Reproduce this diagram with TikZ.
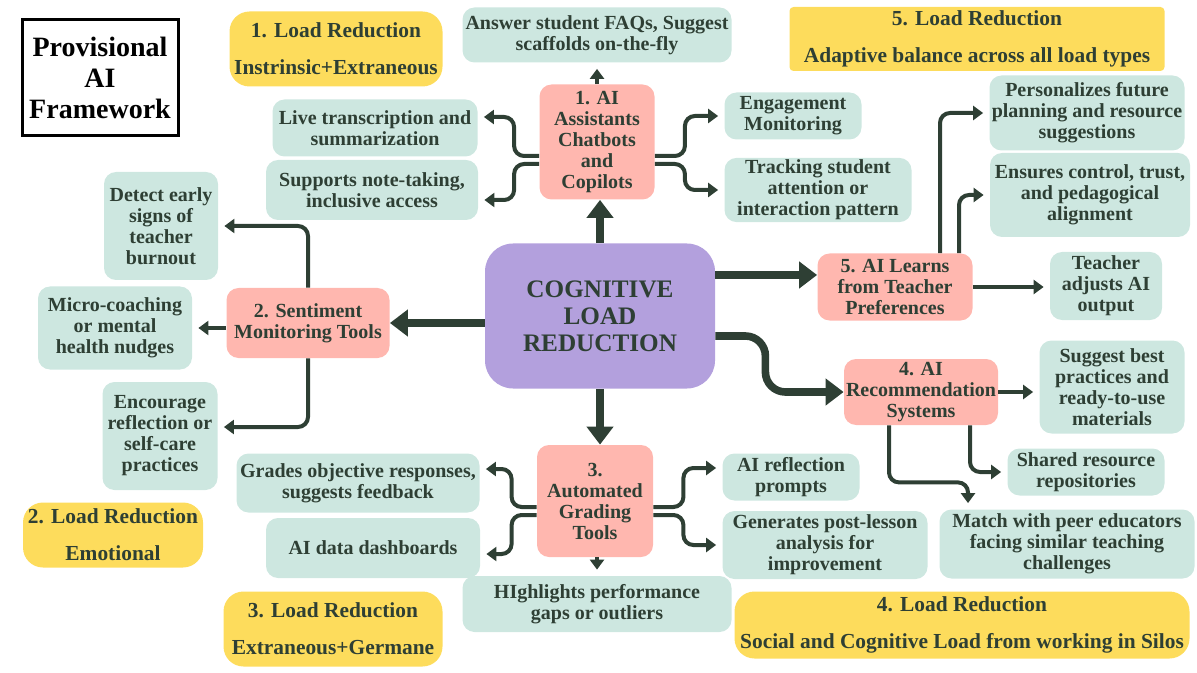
\documentclass[tikz,border=0pt]{standalone}
\usepackage{fontspec}
\setmainfont{Liberation Serif}
\usepackage{xcolor}
\usepackage{tikz}
\usetikzlibrary{positioning, arrows.meta}

\definecolor{ink}{HTML}{2E3F34}
\definecolor{tealc}{HTML}{CDE7E0}
\definecolor{pinkc}{HTML}{FFB7AF}
\definecolor{purplec}{HTML}{B3A0DD}
\definecolor{yellowc}{HTML}{FDDC5C}

\begin{document}
\begin{tikzpicture}[
        x=0.5pt, y=-0.5pt,
        every node/.style={align=center, text=ink, font=\bfseries\fontsize{10}{10.5}\selectfont},
        leaf/.style={fill=tealc, rounded corners=6pt, inner sep=1pt},
        tool/.style={fill=pinkc, rounded corners=6pt, inner sep=1pt},
        loadbox/.style={fill=yellowc, rounded corners=10pt, inner sep=1pt, font=\bfseries\fontsize{10.7}{18.5}\selectfont},
        core/.style={fill=purplec, rounded corners=14pt, font=\bfseries\fontsize{12.6}{13.5}\selectfont},
        titlebox/.style={draw=black, line width=1.5pt, text=black, font=\bfseries\fontsize{14}{15.5}\selectfont},
        arr/.style={draw=ink, line width=2pt, rounded corners=5pt, shorten >=3pt, -{Triangle[length=5pt,width=7pt]}},
        bigarr/.style={draw=ink, line width=3.8pt, rounded corners=10pt, -{Triangle[length=9pt,width=13pt]}},
    ]
        \useasboundingbox (0,0) rectangle (1197,673);

        % Title and load types
        \node[titlebox, minimum width=78pt, minimum height=58pt] (title) at (100,78) {Provisional\\AI\\Framework};
        \node[loadbox, minimum width=106.5pt, minimum height=37.5pt] (load1) at (336,49) {1. Load Reduction\\Instrinsic+Extraneous};
        \node[loadbox, minimum width=187.5pt, minimum height=32pt, rounded corners=2pt] (load5) at (977,39) {5. Load Reduction\\Adaptive balance across all load types};
        \node[loadbox, minimum width=90pt, minimum height=32.5pt] (load2) at (113,535) {2. Load Reduction\\Emotional};
        \node[loadbox, minimum width=109.5pt, minimum height=37.5pt] (load3) at (333,629) {3. Load Reduction\\Extraneous+Germane};
        \node[loadbox, minimum width=227.5pt, minimum height=33.5pt] (load4) at (962,625) {4. Load Reduction\\Social and Cognitive Load from working in Silos};

        % Core and tools
        \node[core, minimum width=115pt, minimum height=72.5pt] (cog) at (600,316) {COGNITIVE\\LOAD\\REDUCTION};
        \node[tool, minimum width=57.5pt, minimum height=57.5pt] (p1) at (597,142) {1. AI\\Assistants\\Chatbots\\and\\Copilots};
        \node[tool, minimum width=81.5pt, minimum height=35pt] (p2) at (308,323) {2. Sentiment\\Monitoring Tools};
        \node[tool, minimum width=58pt, minimum height=56pt] (p3) at (595,501) {3.\\Automated\\Grading\\Tools};
        \node[tool, minimum width=77pt, minimum height=33pt] (p4) at (921,392) {4. AI\\Recommendation\\Systems};
        \node[tool, minimum width=77.5pt, minimum height=33.5pt] (p5) at (895,287) {5. AI Learns\\from Teacher\\Preferences};

        % Outcomes
        \node[leaf, minimum width=134.5pt, minimum height=27.5pt] (faq) at (597,35) {Answer student FAQs, Suggest\\scaffolds on-the-fly};
        \node[leaf, minimum width=102.5pt, minimum height=28.5pt] (live) at (375,128) {Live transcription and\\summarization};
        \node[leaf, minimum width=106pt, minimum height=30pt] (note) at (372,190) {Supports note-taking,\\inclusive access};
        \node[leaf, minimum width=68.5pt, minimum height=23.5pt] (eng) at (793,116) {Engagement\\Monitoring};
        \node[leaf, minimum width=93.5pt, minimum height=32pt] (track) at (818,190) {Tracking student\\attention or\\interaction pattern};
        \node[leaf, minimum width=97.5pt, minimum height=37.5pt] (pers) at (1087,113) {Personalizes future\\planning and resource\\suggestions};
        \node[leaf, minimum width=100pt, minimum height=42pt] (ens) at (1090,195) {Ensures control, trust,\\and pedagogical\\alignment};
        \node[leaf, minimum width=56pt, minimum height=34pt] (adj) at (1106,286) {Teacher\\adjusts AI\\output};
        \node[leaf, minimum width=57pt, minimum height=54pt] (detect) at (161,226) {Detect early\\signs of\\teacher\\burnout};
        \node[leaf, minimum width=77pt, minimum height=41.5pt] (micro) at (115,328) {Micro-coaching\\or mental\\health nudges};
        \node[leaf, minimum width=57.5pt, minimum height=54pt] (enc) at (160,436) {Encourage\\reflection or\\self-care\\practices};
        \node[leaf, minimum width=121.5pt, minimum height=29.5pt] (grades) at (358,483) {Grades objective responses,\\suggests feedback};
        \node[leaf, minimum width=107pt, minimum height=30pt] (dash) at (373,548) {AI data dashboards};
        \node[leaf, minimum width=68.5pt, minimum height=23.5pt] (refl) at (791,477) {AI reflection\\prompts};
        \node[leaf, minimum width=102.5pt, minimum height=34pt] (gen) at (825,545) {Generates post-lesson\\analysis for\\improvement};
        \node[leaf, minimum width=134.5pt, minimum height=28pt] (high) at (597,604) {HIghlights performance\\gaps or outliers};
        \node[leaf, minimum width=72.5pt, minimum height=46.5pt] (sugg) at (1112,387) {Suggest best\\practices and\\ready-to-use\\materials};
        \node[leaf, minimum width=78.5pt, minimum height=23.5pt] (shared) at (1086,472) {Shared resource\\repositories};
        \node[leaf, minimum width=127.5pt, minimum height=34.5pt] (match) at (1067,544) {Match with peer educators\\facing similar teaching\\challenges};

        % From the core
        \coordinate (p5in) at ([yshift=6pt]p5.west);
        \draw[bigarr] (cog.north) -- (cog.north |- p1.south);
        \draw[bigarr] (cog.west |- p2.east) -- (p2.east);
        \draw[bigarr] (cog.south) -- (cog.south |- p3.north);
        \draw[bigarr] (cog.east |- p5in) -- (p5in);
        \draw[bigarr] ([yshift=-10pt]cog.east) -- ++(50,0) |- (p4.west);

        % Chatbots
        \draw[arr] (faq.south |- p1.north) -- (faq.south);
        \draw[arr] ([yshift=-7pt]p1.west) -- ++(-25,0) |- ([yshift=5.5pt]live.east);
        \draw[arr] ([yshift=-11pt]p1.west) -- ++(-25,0) |- ([yshift=-5pt]note.east);
        \draw[arr] ([yshift=-7pt]p1.east) -- ++(30,0) |- (eng.west);
        \draw[arr] ([yshift=-11pt]p1.east) -- ++(30,0) |- (track.west);

        % Sentiment
        \draw[arr] (p2.north) |- (detect.east);
        \draw[arr] (p2.west |- micro.east) -- (micro.east);
        \draw[arr] (p2.south) |- ([yshift=4.5pt]enc.east);

        % Grading
        \draw[arr] ([yshift=-3pt]p3.west) -- ++(-25,0) |- ([yshift=7pt]grades.east);
        \draw[arr] ([yshift=-7pt]p3.west) -- ++(-25,0) |- ([yshift=-3pt]dash.east);
        \draw[arr] ([yshift=-3pt]p3.east) -- ++(30,0) |- ([yshift=4.5pt]refl.west);
        \draw[arr] ([yshift=-7pt]p3.east) -- ++(30,0) |- (gen.west);
        \draw[arr] (high.north |- p3.south) -- (high.north);

        % Recommendation
        \draw[arr] (p4.east) -- (sugg.west |- p4.east);
        \draw[arr] ([xshift=24.5pt]p4.south) |- (shared.west);
        \draw[arr] ([xshift=-16pt]p4.south) -- ++(0,57) -| ([xshift=-49.5pt]match.north);

        % Learning
        \draw[arr] ([xshift=22.5pt]p5.north) |- (pers.west);
        \draw[arr] ([xshift=32pt]p5.north) |- (ens.west);
        \draw[arr] (p5.east) -- (adj.west |- p5.east);

    \end{tikzpicture}
\end{document}
